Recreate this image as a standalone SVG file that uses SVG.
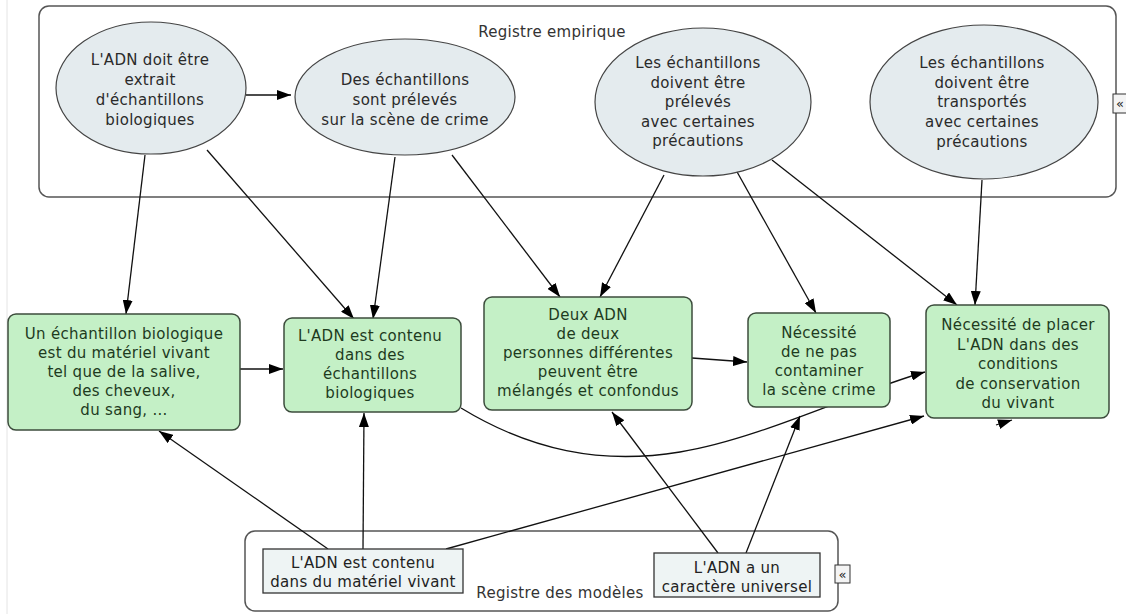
<svg xmlns="http://www.w3.org/2000/svg" width="1126" height="614" viewBox="0 0 1126 614">
<style>
text{font-family:"DejaVu Sans","Liberation Sans",sans-serif;font-size:15px;letter-spacing:0.3px;text-anchor:middle}
.frame{fill:#fff;stroke:#555;stroke-width:1.5}
.ell{fill:#e4ebee;stroke:#444;stroke-width:1.2}
.ell-t{fill:#2a2a2a}
.box{fill:#c4f0c6;stroke:#3c4c3c;stroke-width:1.5}
.box-t{fill:#1e3b1e}
.mod{fill:#eef4f4;stroke:#333;stroke-width:1.3}
.mod-t{fill:#222}
.title{fill:#333}
.conn path{fill:none;stroke:#111;stroke-width:1.3;marker-end:url(#arr)}
.icon{fill:#f4f4f4;stroke:#333;stroke-width:1}
.icon-t{font-size:13px;fill:#222;letter-spacing:0}
</style>
<defs>
<marker id="arr" markerUnits="userSpaceOnUse" markerWidth="14" markerHeight="10" refX="14" refY="5" orient="auto" viewBox="0 0 14 10">
<path d="M0,0 L14,5 L0,10 z" fill="#000"/>
</marker>
</defs>
<rect width="1126" height="614" fill="#fff"/>
<line x1="7" y1="0" x2="7" y2="614" stroke="#e4e4e4" stroke-width="1"/>

<g id="registre-empirique">
<rect class="frame" x="39" y="6" width="1077" height="191" rx="10"/>
<text class="title" x="552" y="37">Registre empirique</text>
<rect class="icon" x="1113" y="94" width="15" height="19"/>
<text class="icon-t" x="1120" y="108">«</text>
</g>

<g id="registre-modeles">
<rect class="frame" x="245" y="531" width="593" height="80" rx="10"/>
<text class="title" x="560" y="598">Registre des modèles</text>
<rect class="icon" x="835" y="565" width="15" height="18"/>
<text class="icon-t" x="842.5" y="579">«</text>
</g>

<g class="conn" id="connectors">
<path d="M246,95 L291,95"/>
<path d="M145,155 L126,314"/>
<path d="M207,150 L354,319"/>
<path d="M395,157 L373,319"/>
<path d="M452,155 L560,297"/>
<path d="M664,175 L600,297"/>
<path d="M736,170 L816,313"/>
<path d="M772,160 L957,305"/>
<path d="M982,180 L975,305"/>
<path d="M238,369 L283,369"/>
<path d="M692,358 L747,362"/>
<path d="M461,408 C530,450 600,465 680,452 S860,390 925,372"/>
<path d="M328,549 L159,431"/>
<path d="M363,549 L364,413"/>
<path d="M446,549 L924,416"/>
<path d="M718,553 L612,412"/>
<path d="M746,553 L800,416"/>
<path d="M996,425 L1012,420"/>
</g>

<g id="e1">
<ellipse class="ell" cx="151" cy="88" rx="95" ry="66"/>
<text class="ell-t" x="150" y="65">L'ADN doit être</text>
<text class="ell-t" x="150" y="85">extrait</text>
<text class="ell-t" x="150" y="105">d'échantillons</text>
<text class="ell-t" x="150" y="125">biologiques</text>
</g>
<g id="e2">
<ellipse class="ell" cx="405" cy="97" rx="110" ry="58"/>
<text class="ell-t" x="405" y="85">Des échantillons</text>
<text class="ell-t" x="405" y="105">sont prélevés</text>
<text class="ell-t" x="405" y="125">sur la scène de crime</text>
</g>
<g id="e3">
<ellipse class="ell" cx="703" cy="102" rx="108" ry="74"/>
<text class="ell-t" x="698" y="68">Les échantillons</text>
<text class="ell-t" x="698" y="87.5">doivent être</text>
<text class="ell-t" x="698" y="107">prélevés</text>
<text class="ell-t" x="698" y="126.5">avec certaines</text>
<text class="ell-t" x="698" y="146">précautions</text>
</g>
<g id="e4">
<ellipse class="ell" cx="984" cy="102" rx="114" ry="77"/>
<text class="ell-t" x="982" y="68">Les échantillons</text>
<text class="ell-t" x="982" y="88">doivent être</text>
<text class="ell-t" x="982" y="107">transportés</text>
<text class="ell-t" x="982" y="127">avec certaines</text>
<text class="ell-t" x="982" y="147">précautions</text>
</g>

<g id="bA">
<rect class="box" x="8" y="314" width="232" height="116" rx="8"/>
<text class="box-t" x="124" y="339">Un échantillon biologique</text>
<text class="box-t" x="124" y="358">est du matériel vivant</text>
<text class="box-t" x="124" y="377">tel que de la salive,</text>
<text class="box-t" x="124" y="396">des cheveux,</text>
<text class="box-t" x="124" y="415">du sang, ...</text>
</g>
<g id="bB">
<rect class="box" x="284" y="318" width="177" height="94" rx="8"/>
<text class="box-t" x="370" y="341">L'ADN est contenu</text>
<text class="box-t" x="370" y="360">dans des</text>
<text class="box-t" x="370" y="379">échantillons</text>
<text class="box-t" x="370" y="398">biologiques</text>
</g>
<g id="bC">
<rect class="box" x="484" y="297" width="208" height="113" rx="8"/>
<text class="box-t" x="588" y="320">Deux ADN</text>
<text class="box-t" x="588" y="339">de deux</text>
<text class="box-t" x="588" y="358">personnes différentes</text>
<text class="box-t" x="588" y="377">peuvent être</text>
<text class="box-t" x="588" y="396">mélangés et confondus</text>
</g>
<g id="bD">
<rect class="box" x="748" y="313" width="142" height="94" rx="8"/>
<text class="box-t" x="819" y="338">Nécessité</text>
<text class="box-t" x="819" y="357">de ne pas</text>
<text class="box-t" x="819" y="376">contaminer</text>
<text class="box-t" x="819" y="395">la scène crime</text>
</g>
<g id="bE">
<rect class="box" x="926" y="305" width="183" height="113" rx="8"/>
<text class="box-t" x="1018" y="330">Nécessité de placer</text>
<text class="box-t" x="1018" y="349.5">L'ADN dans des</text>
<text class="box-t" x="1018" y="369">conditions</text>
<text class="box-t" x="1018" y="388.5">de conservation</text>
<text class="box-t" x="1018" y="408">du vivant</text>
</g>

<g id="mF">
<rect class="mod" x="263" y="549" width="200" height="44"/>
<text class="mod-t" x="363" y="568">L'ADN est contenu</text>
<text class="mod-t" x="363" y="587">dans du matériel vivant</text>
</g>
<g id="mG">
<rect class="mod" x="654" y="553" width="166" height="44"/>
<text class="mod-t" x="737" y="573">L'ADN a un</text>
<text class="mod-t" x="737" y="592">caractère universel</text>
</g>
</svg>
